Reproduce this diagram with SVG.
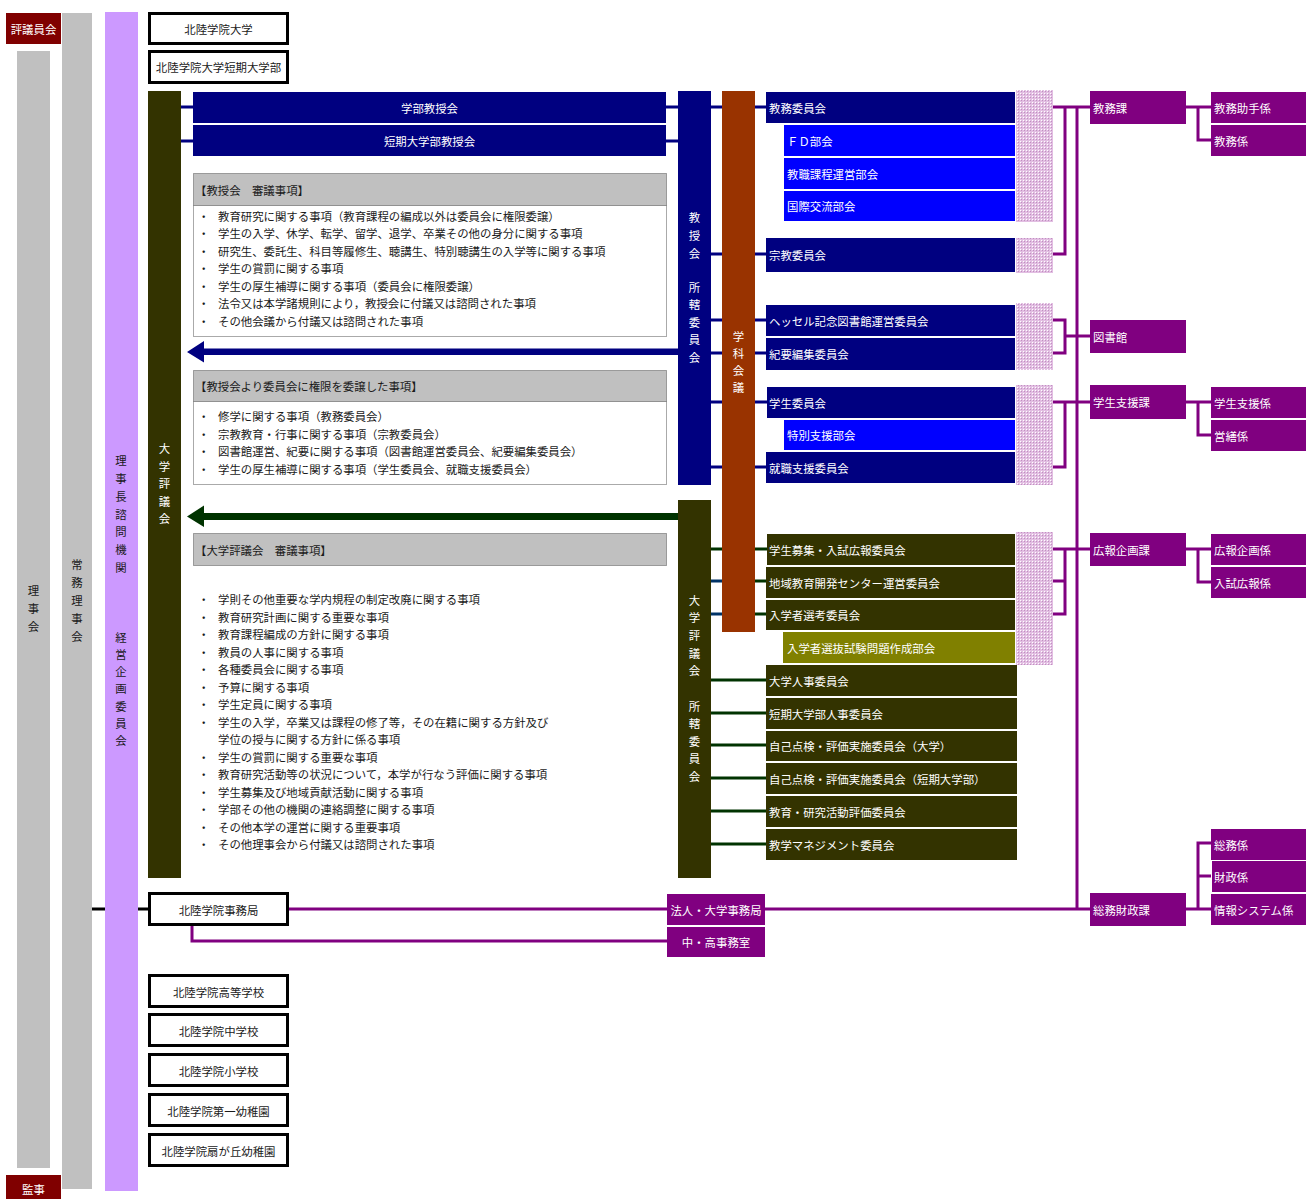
<svg xmlns="http://www.w3.org/2000/svg" width="1314" height="1199" viewBox="0 0 1314 1199">
<style>
.t{font-family:"Noto Sans CJK JP","Noto Sans",sans-serif;font-size:11.4px;dominant-baseline:central}
.s{font-size:11.4px}
.c{text-anchor:middle}
.w{fill:#ffffff}
.k{fill:#1a1a1a}
.bx{fill:#ffffff;stroke:#000000;stroke-width:3}
.nv{fill:#000080}
.bl{fill:#0000ff}
.ol{fill:#333300}
.ov{fill:#808000}
.pu{fill:#800080}
.hd{fill:#c0c0c0;stroke:#555555;stroke-width:1;stroke-dasharray:1 1}
.bd{fill:#ffffff;stroke:#555555;stroke-width:1;stroke-dasharray:1 1}
.ln{fill:none;stroke-width:3}
.lnv{stroke:#000080}
.lbl{stroke:#0000ff}
.lgr{stroke:#003300}
.lg2{stroke:#008000}
.lnb{stroke:#003366}
.lpu{stroke:#800080}
.lk{stroke:#000000}
</style>
<defs>
<pattern id="hatch" width="3" height="3" patternUnits="userSpaceOnUse">
<rect width="3" height="3" fill="#e2bee2"/>
<rect width="1" height="1" fill="#ffffff"/>
<rect x="1" y="1" width="1" height="1" fill="#c090c0"/>
</pattern>
</defs>

<!-- left columns -->
<g id="hyogiinkai"><rect x="6" y="13" width="55" height="31" fill="#800000"/><text class="t w c" x="33.5" y="29">評議員会</text></g>
<g id="rijikai"><rect x="17" y="51" width="33" height="1117" fill="#c0c0c0"/>
<text class="t k c"><tspan x="33.5" y="590">理</tspan><tspan x="33.5" y="608">事</tspan><tspan x="33.5" y="626">会</tspan></text></g>
<g id="jomu"><rect x="62" y="13" width="30" height="1176" fill="#c0c0c0"/>
<text class="t k c"><tspan x="77" y="564">常</tspan><tspan x="77" y="582">務</tspan><tspan x="77" y="600">理</tspan><tspan x="77" y="618">事</tspan><tspan x="77" y="636">会</tspan></text></g>
<g id="shimon"><rect x="105" y="12" width="33" height="1179" fill="#cc99ff"/>
<text class="t k c"><tspan x="121" y="460">理</tspan><tspan x="121" y="478">事</tspan><tspan x="121" y="496">長</tspan><tspan x="121" y="514">諮</tspan><tspan x="121" y="531">問</tspan><tspan x="121" y="549">機</tspan><tspan x="121" y="567">関</tspan><tspan x="121" y="637">経</tspan><tspan x="121" y="654">営</tspan><tspan x="121" y="671">企</tspan><tspan x="121" y="688">画</tspan><tspan x="121" y="706">委</tspan><tspan x="121" y="723">員</tspan><tspan x="121" y="740">会</tspan></text></g>
<g id="kanji"><rect x="6" y="1175" width="55" height="24" fill="#800000"/><text class="t w c" x="33.5" y="1189">監事</text></g>

<!-- top institution boxes -->
<g id="daigaku"><rect class="bx" x="149.5" y="13.5" width="138" height="30"/><text class="t k c" x="218.5" y="29">北陸学院大学</text></g>
<g id="tandai"><rect class="bx" x="149.5" y="51.5" width="138" height="31"/><text class="t k c" x="218.5" y="67">北陸学院大学短期大学部</text></g>

<!-- connectors -->
<g id="connectors">
<path class="ln lnv" d="M181 107H193M181 141H193M666 107H678M666 141H678"/>
<path class="ln lnv" d="M711 107H722M755 107H766M711 254H722M755 254H766M711 320H722M755 320H766M711 353H722M755 353H766M711 402H722M755 402H767M711 467H722M755 467H766"/>
<path class="ln lgr" d="M711 549H722M755 549H767M755 581H766M755 614H766"/>
<path class="ln lnb" d="M711 581H722M711 614H722"/>
<path class="ln lgr" d="M711 680H766M711 713H766M711 745H766M711 778H766M711 811H766M711 844H766"/>
<path class="ln lbl" d="M1016 107H1040V173H1016M1016 140H1028V206H1016M1028 173H1016"/>
<path class="ln lbl" d="M1016 402H1040V435H1016"/>
<path class="ln lg2" d="M1016 614H1028V647H1016"/>
<path class="ln lpu" d="M1053 107H1090M1065 107V254H1053M1077 107V909"/>
<path class="ln lpu" d="M1053 320H1065V353H1053M1065 336H1090"/>
<path class="ln lpu" d="M1053 402H1090M1065 402V467H1053"/>
<path class="ln lpu" d="M1053 549H1090M1065 549V614H1053M1053 581H1065"/>
<path class="ln lpu" d="M1186 107H1211M1198 107V140H1211"/>
<path class="ln lpu" d="M1186 402H1211M1198 402V435H1211"/>
<path class="ln lpu" d="M1186 549H1211M1198 549V582H1211"/>
<path class="ln lpu" d="M1186 909H1211M1198 909V843H1211M1198 876H1211"/>
<path class="ln lk" d="M92 909H105M138 909H148"/>
<path class="ln lpu" d="M288 909H667M765 909H1090M192 926V941H667"/>
<path d="M678 348.5H204V341L187 352L204 362.5V355H678Z" fill="#000080"/>
<path d="M678 513H204V505.5L187 516.5L204 527V520H678Z" fill="#003300"/>
</g>

<!-- council bars -->
<g id="daigaku-hyogikai"><rect x="148" y="91" width="33" height="787" class="ol"/>
<text class="t w c"><tspan x="164.5" y="448">大</tspan><tspan x="164.5" y="466">学</tspan><tspan x="164.5" y="483">評</tspan><tspan x="164.5" y="501">議</tspan><tspan x="164.5" y="518">会</tspan></text></g>
<g id="gakubu-kyojukai"><rect x="193" y="92" width="473" height="31" class="nv"/><text class="t w c" x="429.5" y="107.5">学部教授会</text></g>
<g id="tandai-kyojukai"><rect x="193" y="125" width="473" height="31" class="nv"/><text class="t w c" x="429.5" y="140.5">短期大学部教授会</text></g>
<g id="kyojukai-shokatsu"><rect x="678" y="91" width="33" height="394" class="nv"/>
<text class="t w c"><tspan x="694.5" y="217">教</tspan><tspan x="694.5" y="235">授</tspan><tspan x="694.5" y="253">会</tspan><tspan x="694.5" y="287">所</tspan><tspan x="694.5" y="304">轄</tspan><tspan x="694.5" y="322">委</tspan><tspan x="694.5" y="339">員</tspan><tspan x="694.5" y="357">会</tspan></text></g>
<g id="gakka-kaigi"><rect x="722" y="91" width="33" height="541" fill="#993300"/>
<text class="t w c"><tspan x="738.5" y="336">学</tspan><tspan x="738.5" y="353">科</tspan><tspan x="738.5" y="370">会</tspan><tspan x="738.5" y="387">議</tspan></text></g>
<g id="hyogikai-shokatsu"><rect x="678" y="500" width="33" height="378" class="ol"/>
<text class="t w c"><tspan x="694.5" y="600">大</tspan><tspan x="694.5" y="617">学</tspan><tspan x="694.5" y="635">評</tspan><tspan x="694.5" y="653">議</tspan><tspan x="694.5" y="670">会</tspan><tspan x="694.5" y="706">所</tspan><tspan x="694.5" y="723">轄</tspan><tspan x="694.5" y="741">委</tspan><tspan x="694.5" y="758">員</tspan><tspan x="694.5" y="776">会</tspan></text></g>

<!-- matters boxes -->
<g id="kyojukai-shingi">
<rect class="hd" x="193.5" y="173.5" width="473" height="32"/>
<rect class="bd" x="193.5" y="205.5" width="473" height="131"/>
<text class="t s k" x="195" y="190">【教授会　審議事項】</text>
<text class="t s k"><tspan x="198" y="215.5">・</tspan><tspan x="218" y="215.5">教育研究に関する事項（教育課程の編成以外は委員会に権限委譲）</tspan><tspan x="198" y="233">・</tspan><tspan x="218" y="233">学生の入学、休学、転学、留学、退学、卒業その他の身分に関する事項</tspan><tspan x="198" y="250.5">・</tspan><tspan x="218" y="250.5">研究生、委託生、科目等履修生、聴講生、特別聴講生の入学等に関する事項</tspan><tspan x="198" y="268">・</tspan><tspan x="218" y="268">学生の賞罰に関する事項</tspan><tspan x="198" y="285.5">・</tspan><tspan x="218" y="285.5">学生の厚生補導に関する事項（委員会に権限委譲）</tspan><tspan x="198" y="303">・</tspan><tspan x="218" y="303">法令又は本学諸規則により，教授会に付議又は諮問された事項</tspan><tspan x="198" y="320.5">・</tspan><tspan x="218" y="320.5">その他会議から付議又は諮問された事項</tspan></text>
</g>
<g id="inin-jiko">
<rect class="hd" x="193.5" y="370.5" width="473" height="31"/>
<rect class="bd" x="193.5" y="401.5" width="473" height="83"/>
<text class="t s k" x="195" y="386">【教授会より委員会に権限を委譲した事項】</text>
<text class="t s k"><tspan x="198" y="416">・</tspan><tspan x="218" y="416">修学に関する事項（教務委員会）</tspan><tspan x="198" y="433.5">・</tspan><tspan x="218" y="433.5">宗教教育・行事に関する事項（宗教委員会）</tspan><tspan x="198" y="451">・</tspan><tspan x="218" y="451">図書館運営、紀要に関する事項（図書館運営委員会、紀要編集委員会）</tspan><tspan x="198" y="468.5">・</tspan><tspan x="218" y="468.5">学生の厚生補導に関する事項（学生委員会、就職支援委員会）</tspan></text>
</g>
<g id="hyogikai-shingi">
<rect class="hd" x="193.5" y="533.5" width="473" height="32"/>
<text class="t s k" x="195" y="550">【大学評議会　審議事項】</text>
<text class="t s k"><tspan x="198" y="599">・</tspan><tspan x="218" y="599">学則その他重要な学内規程の制定改廃に関する事項</tspan><tspan x="198" y="616.5">・</tspan><tspan x="218" y="616.5">教育研究計画に関する重要な事項</tspan><tspan x="198" y="634">・</tspan><tspan x="218" y="634">教育課程編成の方針に関する事項</tspan><tspan x="198" y="651.5">・</tspan><tspan x="218" y="651.5">教員の人事に関する事項</tspan><tspan x="198" y="669">・</tspan><tspan x="218" y="669">各種委員会に関する事項</tspan><tspan x="198" y="686.5">・</tspan><tspan x="218" y="686.5">予算に関する事項</tspan><tspan x="198" y="704">・</tspan><tspan x="218" y="704">学生定員に関する事項</tspan><tspan x="198" y="721.5">・</tspan><tspan x="218" y="721.5">学生の入学，卒業又は課程の修了等，その在籍に関する方針及び</tspan><tspan x="218" y="739">学位の授与に関する方針に係る事項</tspan><tspan x="198" y="756.5">・</tspan><tspan x="218" y="756.5">学生の賞罰に関する重要な事項</tspan><tspan x="198" y="774">・</tspan><tspan x="218" y="774">教育研究活動等の状況について，本学が行なう評価に関する事項</tspan><tspan x="198" y="791.5">・</tspan><tspan x="218" y="791.5">学生募集及び地域貢献活動に関する事項</tspan><tspan x="198" y="809">・</tspan><tspan x="218" y="809">学部その他の機関の連絡調整に関する事項</tspan><tspan x="198" y="826.5">・</tspan><tspan x="218" y="826.5">その他本学の運営に関する重要事項</tspan><tspan x="198" y="844">・</tspan><tspan x="218" y="844">その他理事会から付議又は諮問された事項</tspan></text>
</g>

<!-- hatch areas -->
<g id="hatch-areas" fill="url(#hatch)">
<rect x="1016" y="90" width="37" height="132"/>
<rect x="1016" y="238" width="37" height="35"/>
<rect x="1016" y="303" width="37" height="67"/>
<rect x="1016" y="385" width="37" height="100"/>
<rect x="1016" y="532" width="37" height="133"/>
</g>

<!-- committees -->
<g id="kyomu-iinkai"><rect x="766" y="92" width="249" height="31" class="nv"/><text class="t w" x="769" y="107.5">教務委員会</text></g>
<g id="fd-bukai"><rect x="784" y="125" width="231" height="31" class="bl"/><text class="t w" x="787" y="140.5">ＦＤ部会</text></g>
<g id="kyoshoku-bukai"><rect x="784" y="158" width="231" height="31" class="bl"/><text class="t w" x="787" y="173.5">教職課程運営部会</text></g>
<g id="kokusai-bukai"><rect x="784" y="191" width="231" height="30" class="bl"/><text class="t w" x="787" y="206">国際交流部会</text></g>
<g id="shukyo-iinkai"><rect x="766" y="238" width="249" height="34" class="nv"/><text class="t w" x="769" y="255">宗教委員会</text></g>
<g id="tosho-iinkai"><rect x="766" y="305" width="249" height="31" class="nv"/><text class="t w" x="769" y="320.5">ヘッセル記念図書館運営委員会</text></g>
<g id="kiyo-iinkai"><rect x="766" y="338" width="249" height="32" class="nv"/><text class="t w" x="769" y="354">紀要編集委員会</text></g>
<g id="gakusei-iinkai"><rect x="767" y="387" width="248" height="31" class="nv"/><text class="t w" x="769" y="402.5">学生委員会</text></g>
<g id="tokubetsu-bukai"><rect x="784" y="420" width="231" height="30" class="bl"/><text class="t w" x="787" y="435">特別支援部会</text></g>
<g id="shushoku-iinkai"><rect x="766" y="452" width="249" height="31" class="nv"/><text class="t w" x="769" y="467.5">就職支援委員会</text></g>
<g id="boshu-iinkai"><rect x="767" y="534" width="248" height="31" class="ol"/><text class="t w" x="769" y="549.5">学生募集・入試広報委員会</text></g>
<g id="chiiki-iinkai"><rect x="766" y="567" width="249" height="31" class="ol"/><text class="t w" x="769" y="582.5">地域教育開発センター運営委員会</text></g>
<g id="senko-iinkai"><rect x="766" y="600" width="249" height="30" class="ol"/><text class="t w" x="769" y="615">入学者選考委員会</text></g>
<g id="mondai-bukai"><rect x="783" y="632" width="232" height="31" class="ov"/><text class="t w" x="787" y="647.5">入学者選抜試験問題作成部会</text></g>
<g id="daigaku-jinji"><rect x="766" y="665" width="251" height="31" class="ol"/><text class="t w" x="769" y="680.5">大学人事委員会</text></g>
<g id="tandai-jinji"><rect x="766" y="698" width="251" height="31" class="ol"/><text class="t w" x="769" y="713.5">短期大学部人事委員会</text></g>
<g id="tenken-daigaku"><rect x="766" y="731" width="251" height="30" class="ol"/><text class="t w" x="769" y="746">自己点検・評価実施委員会（大学）</text></g>
<g id="tenken-tandai"><rect x="766" y="763" width="251" height="31" class="ol"/><text class="t w" x="769" y="778.5">自己点検・評価実施委員会（短期大学部）</text></g>
<g id="hyoka-iinkai"><rect x="766" y="796" width="251" height="31" class="ol"/><text class="t w" x="769" y="811.5">教育・研究活動評価委員会</text></g>
<g id="management-iinkai"><rect x="766" y="829" width="251" height="31" class="ol"/><text class="t w" x="769" y="844.5">教学マネジメント委員会</text></g>

<!-- offices -->
<g id="kyomuka"><rect x="1090" y="91" width="96" height="33" class="pu"/><text class="t w" x="1093" y="107.5">教務課</text></g>
<g id="kyomu-joshu"><rect x="1211" y="92" width="95" height="31" class="pu"/><text class="t w" x="1214" y="107.5">教務助手係</text></g>
<g id="kyomu-kakari"><rect x="1211" y="125" width="95" height="31" class="pu"/><text class="t w" x="1214" y="140.5">教務係</text></g>
<g id="toshokan"><rect x="1090" y="320" width="96" height="33" class="pu"/><text class="t w" x="1093" y="336.5">図書館</text></g>
<g id="gakusei-shienka"><rect x="1090" y="385" width="96" height="34" class="pu"/><text class="t w" x="1093" y="402">学生支援課</text></g>
<g id="gakusei-shien-kakari"><rect x="1211" y="387" width="95" height="31" class="pu"/><text class="t w" x="1214" y="402.5">学生支援係</text></g>
<g id="eizen"><rect x="1211" y="420" width="95" height="31" class="pu"/><text class="t w" x="1214" y="435.5">営繕係</text></g>
<g id="koho-kikakuka"><rect x="1090" y="533" width="96" height="33" class="pu"/><text class="t w" x="1093" y="549.5">広報企画課</text></g>
<g id="koho-kikaku-kakari"><rect x="1211" y="534" width="95" height="31" class="pu"/><text class="t w" x="1214" y="549.5">広報企画係</text></g>
<g id="nyushi-koho"><rect x="1211" y="567" width="95" height="31" class="pu"/><text class="t w" x="1214" y="582.5">入試広報係</text></g>
<g id="somu-kakari"><rect x="1211" y="829" width="95" height="31" class="pu"/><text class="t w" x="1214" y="844.5">総務係</text></g>
<g id="zaisei-kakari"><rect x="1212" y="861" width="94" height="31" class="pu"/><text class="t w" x="1214" y="876.5">財政係</text></g>
<g id="joho-kakari"><rect x="1211" y="894" width="95" height="31" class="pu"/><text class="t w" x="1214" y="909.5">情報システム係</text></g>
<g id="somu-zaiseika"><rect x="1090" y="893" width="96" height="33" class="pu"/><text class="t w" x="1093" y="909.5">総務財政課</text></g>

<!-- bottom -->
<g id="jimukyoku"><rect class="bx" x="149.5" y="893.5" width="138" height="31"/><text class="t k c" x="218.5" y="909.5">北陸学院事務局</text></g>
<g id="hojin-jimukyoku"><rect x="667" y="894" width="98" height="31" class="pu"/><text class="t w c" x="716" y="909.5">法人・大学事務局</text></g>
<g id="chuko-jimushitsu"><rect x="667" y="927" width="98" height="30" class="pu"/><text class="t w c" x="716" y="942">中・高事務室</text></g>
<g id="koko"><rect class="bx" x="149.5" y="975.5" width="138" height="31"/><text class="t k c" x="218.5" y="991.5">北陸学院高等学校</text></g>
<g id="chugakko"><rect class="bx" x="149.5" y="1014.5" width="138" height="31"/><text class="t k c" x="218.5" y="1030.5">北陸学院中学校</text></g>
<g id="shogakko"><rect class="bx" x="149.5" y="1054.5" width="138" height="31"/><text class="t k c" x="218.5" y="1070.5">北陸学院小学校</text></g>
<g id="daiichi-yochien"><rect class="bx" x="149.5" y="1094.5" width="138" height="31"/><text class="t k c" x="218.5" y="1110.5">北陸学院第一幼稚園</text></g>
<g id="ogigaoka-yochien"><rect class="bx" x="149.5" y="1134.5" width="138" height="31"/><text class="t k c" x="218.5" y="1150.5">北陸学院扇が丘幼稚園</text></g>
</svg>
